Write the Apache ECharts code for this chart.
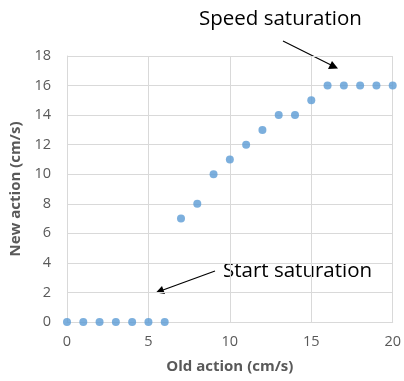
<!DOCTYPE html>
<html><head><meta charset="utf-8">
<script src="https://cdn.jsdelivr.net/npm/echarts@6/dist/echarts.min.js"></script>
<style>html,body{margin:0;padding:0;background:#fff}#c{width:404px;height:381px}</style>
</head><body><div id="c"></div>
<script>
const oldAction = [0,1,2,3,4,5,6,7,8,9,10,11,12,13,14,15,16,17,18,19,20];
const newAction = [0,0,0,0,0,0,0,7,8,10,11,12,13,14,14,15,16,16,16,16,16];
const xTitle = 'Old action (cm/s)';
const yTitle = 'New action (cm/s)';
const noteTop = 'Speed saturation';
const noteBottom = 'Start saturation';

const FONT = '"Open Sans", "Liberation Sans", sans-serif';
const chart = echarts.init(document.getElementById('c'), null, {renderer:'canvas'});
const axisCommon = {
  axisLine:{show:true, lineStyle:{color:'#d9d9d9', width:1}},
  axisTick:{show:false},
  splitLine:{show:true, lineStyle:{color:'#d9d9d9', width:1}},
  axisLabel:{color:'#595959', fontSize:14.5, fontFamily:FONT},
  nameTextStyle:{color:'#595959', fontSize:15, fontWeight:'bold', fontFamily:FONT}
};
chart.setOption({
  animation:false,
  grid:{left:67, right:10, top:56, bottom:59},
  xAxis:Object.assign({}, axisCommon, {
    type:'value', min:0, max:20, interval:5,
    name:xTitle, nameLocation:'middle', nameGap:37,
    axisLabel:Object.assign({}, axisCommon.axisLabel, {margin:12})
  }),
  yAxis:Object.assign({}, axisCommon, {
    type:'value', min:0, max:18, interval:2,
    name:yTitle, nameLocation:'middle', nameGap:41, nameRotate:90,
    axisLabel:Object.assign({}, axisCommon.axisLabel, {margin:16})
  }),
  series:[{
    type:'scatter', symbol:'circle', symbolSize:8,
    itemStyle:{color:'#5b9bd5'},
    data:oldAction.map((x,i)=>[x,newAction[i]])
  }],
  graphic:[
    {type:'text', left:199, top:9, style:{text:noteTop, fill:'#000', font:'20.5px '+FONT}},
    {type:'line', shape:{x1:283,y1:41,x2:332,y2:65.5}, style:{stroke:'#000', lineWidth:1.2}},
    {type:'polygon', shape:{points:[[338,68.5],[328,69],[332,61]]}, style:{fill:'#000'}},
    {type:'text', left:223, top:261, style:{text:noteBottom, fill:'#000', font:'20.5px '+FONT}},
    {type:'line', shape:{x1:215,y1:271,x2:163,y2:290}, style:{stroke:'#000', lineWidth:1.2}},
    {type:'polygon', shape:{points:[[156,292.5],[162,286],[165,294]]}, style:{fill:'#000'}}
  ]
});
</script></body></html>
